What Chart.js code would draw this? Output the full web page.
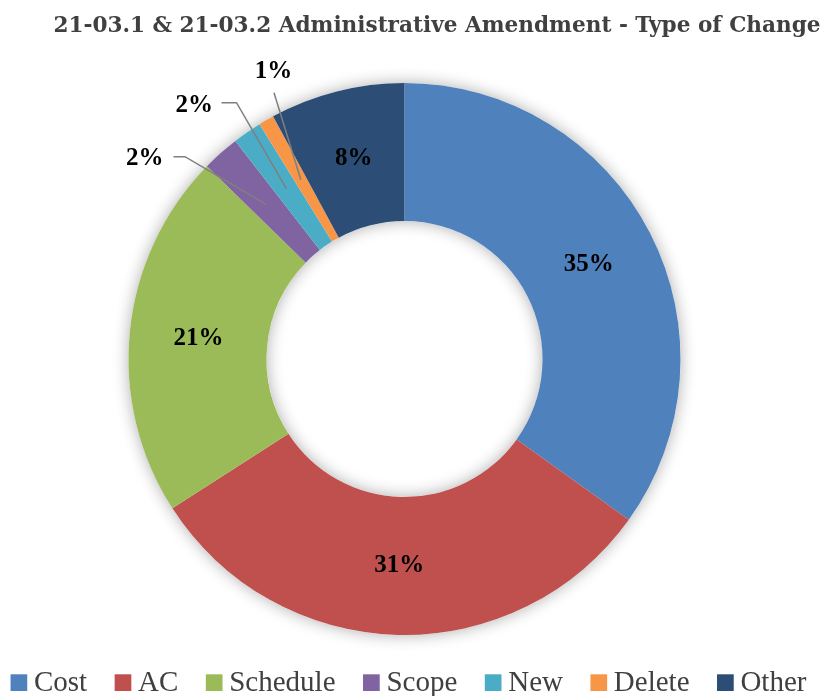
<!DOCTYPE html>
<html>
<head>
<meta charset="utf-8">
<title>Type of Change</title>
<script src="https://cdn.jsdelivr.net/npm/chart.js@4.4.1/dist/chart.umd.min.js"></script>
<style>
  html, body { margin: 0; padding: 0; background: #ffffff; }
  #wrap { position: relative; width: 825px; height: 696px; }
</style>
</head>
<body>
<div id="wrap"><canvas id="chart"></canvas></div>
<script>
const TITLE = "21-03.1 & 21-03.2 Administrative Amendment - Type of Change";

const categories = ["Cost", "AC", "Schedule", "Scope", "New", "Delete", "Other"];
const shares = [34.9, 31.0, 21.4, 2.2, 1.7, 0.9, 7.9];
const colors = ["#4f81bd", "#c0504d", "#9bbb59", "#8064a2", "#4bacc6", "#f79646", "#2c4d75"];

// Thin slices get their label outside the ring with a leader line.
// Offsets are in px from the ring centre; the line starts at the slice middle.
const callouts = {
	3: { path: [[-219.5, -202.3], [-231, -202.3]], text: [-241, -200.5], align: "right" },
	4: { path: [[-168, -256.3], [-183, -256.3]], text: [-191.5, -253.7], align: "right" },
	5: { path: [[-130.5, -266.3]], text: [-131, -287.3], align: "center" },
};

const INK = "#404040";
const LABEL_FONT = "bold 25px 'Liberation Serif', serif";

function pct(i) {
	const total = shares.reduce((a, b) => a + b, 0);
	return Math.round((shares[i] / total) * 100) + "%";
}

// soft shadow round the ring, drawn under the slices
const ringShadow = {
	id: "ringShadow",
	beforeDatasetsDraw(chart) {
		const arc = chart.getDatasetMeta(0).data[0];
		if (!arc) return;
		const { x, y, innerRadius, outerRadius } = arc;
		const ctx = chart.ctx;
		ctx.save();
		ctx.shadowColor = "rgba(0,0,0,0.32)";
		ctx.shadowBlur = 16;
		ctx.fillStyle = "#ffffff";
		ctx.beginPath();
		ctx.arc(x, y, outerRadius, 0, Math.PI * 2);
		ctx.arc(x, y, innerRadius, 0, Math.PI * 2, true);
		ctx.fill("evenodd");
		ctx.restore();
	},
};

const sliceLabels = {
	id: "sliceLabels",
	afterDatasetsDraw(chart) {
		const ctx = chart.ctx;
		ctx.save();
		ctx.font = LABEL_FONT;
		ctx.fillStyle = "#000000";
		chart.getDatasetMeta(0).data.forEach((arc, i) => {
			const mid = (arc.startAngle + arc.endAngle) / 2;
			const r = (arc.innerRadius + arc.outerRadius) / 2;
			const mx = arc.x + Math.cos(mid) * r;
			const my = arc.y + Math.sin(mid) * r;
			const c = callouts[i];
			if (!c) {
				ctx.textAlign = "center";
				ctx.textBaseline = "middle";
				ctx.fillText(pct(i), mx, my);
				return;
			}
			ctx.strokeStyle = "#7f7f7f";
			ctx.lineWidth = 1.5;
			ctx.beginPath();
			ctx.moveTo(mx, my);
			c.path.forEach((p) => ctx.lineTo(arc.x + p[0], arc.y + p[1]));
			ctx.stroke();
			ctx.textAlign = c.align;
			ctx.textBaseline = "middle";
			ctx.fillText(pct(i), arc.x + c.text[0], arc.y + c.text[1]);
		});
		ctx.restore();
	},
};

// title and legend drawn by hand so they can sit where the original has them
const titleAndLegend = {
	id: "titleAndLegend",
	afterDraw(chart) {
		const ctx = chart.ctx;
		ctx.save();
		ctx.fillStyle = INK;
		ctx.font = "bold 21.6px 'DejaVu Serif', serif";
		ctx.textAlign = "center";
		ctx.textBaseline = "alphabetic";
		ctx.fillText(TITLE, 437, 32);

		ctx.font = "29px 'Liberation Serif', serif";
		ctx.textAlign = "left";
		const box = 16.7, boxGap = 6.7, itemGap = 27.5, baseline = 691;
		const widths = categories.map((t) => ctx.measureText(t).width);
		const total =
			widths.reduce((a, b) => a + b, 0) +
			categories.length * (box + boxGap) +
			(categories.length - 1) * itemGap;
		let x = 408.5 - total / 2;
		categories.forEach((t, i) => {
			ctx.fillStyle = colors[i];
			ctx.fillRect(x, baseline - box, box, box);
			x += box + boxGap;
			ctx.fillStyle = INK;
			ctx.fillText(t, x, baseline);
			x += widths[i] + itemGap;
		});
		ctx.restore();
	},
};

new Chart(document.getElementById("chart"), {
	type: "doughnut",
	data: {
		labels: categories,
		datasets: [
			{
				data: shares,
				backgroundColor: colors,
				borderWidth: 0,
			},
		],
	},
	options: {
		responsive: true,
		maintainAspectRatio: false,
		animation: false,
		cutout: "50%",
		radius: 276,
		layout: { padding: { top: 82, bottom: 60, left: 0, right: 16 } },
		plugins: {
			title: { display: false },
			legend: { display: false },
			tooltip: { enabled: false },
		},
	},
	plugins: [ringShadow, sliceLabels, titleAndLegend],
});
</script>
</body>
</html>
